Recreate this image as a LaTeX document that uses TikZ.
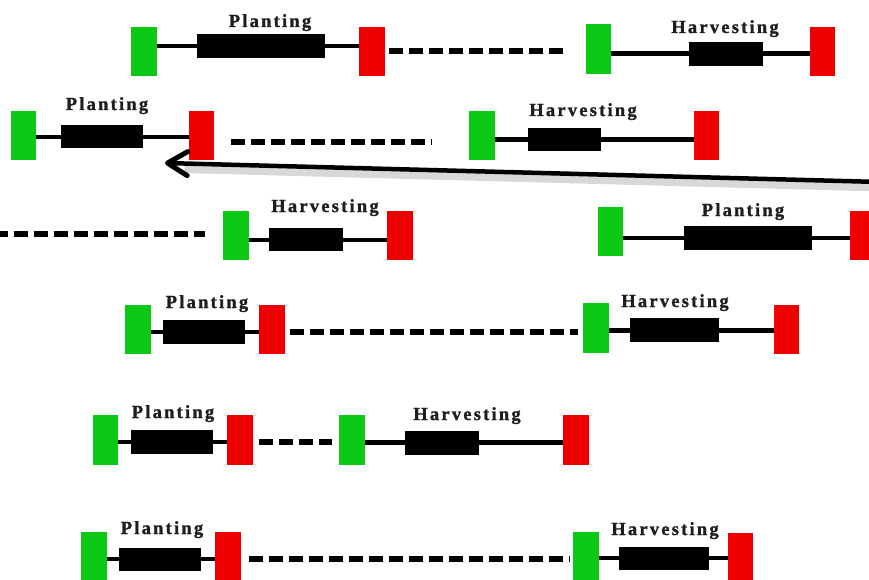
\documentclass[tikz,border=0pt]{standalone}
\usepackage{fontspec}
\setmainfont{Liberation Serif}
\newfontfamily\labelfont[LetterSpace=12,BoldFeatures={FakeBold=1.2}]{Liberation Serif}
\usetikzlibrary{arrows.meta}
\definecolor{boxgreen}{RGB}{10,200,20}
\definecolor{boxred}{RGB}{238,0,0}
\definecolor{labelgray}{RGB}{30,30,30}
\begin{document}
\begin{tikzpicture}[x=1pt,y=-1pt,
  gbox/.style={fill=boxgreen,draw=none,minimum width=26pt,minimum height=49pt,inner sep=0pt,outer sep=0pt},
  rbox/.style={fill=boxred,draw=none,minimum width=26pt,minimum height=49pt,inner sep=0pt,outer sep=0pt},
  bar/.style={fill=black,draw=none,minimum height=24pt,inner sep=0pt,outer sep=0pt},
  lab/.style={anchor=base,inner sep=0pt,font=\labelfont\bfseries\fontsize{18.5}{18.5}\selectfont,text=labelgray},
  stem/.style={line width=4pt},
  gapline/.style={line width=6pt,dash pattern=on 14pt off 6pt},
]
\clip (0,0) rectangle (869,580);
\fill[white] (0,0) rectangle (869,580);

% ---------- Row 1 ----------
\node[gbox] (G1a) at (144,51.5) {};
\node[bar,minimum width=128pt] (B1a) at (261,46) {};
\node[rbox] (R1a) at (372,51.5) {};
\node[gbox,minimum width=25pt,minimum height=50pt] (G1b) at (598.5,49) {};
\node[bar,minimum width=74pt] (B1b) at (726,54) {};
\node[rbox,minimum width=25pt] (R1b) at (822.5,51.5) {};
\draw[stem] (B1a.west -| G1a.east) -- (B1a.west) (B1a.east) -- (B1a.east -| R1a.west);
\draw[stem,line width=5pt] (B1b.west -| G1b.east) -- (B1b.west) (B1b.east) -- (B1b.east -| R1b.west);
\draw[gapline,shorten <=4pt,shorten >=19pt] (R1a.east) -- (R1a.east -| G1b.west);
\node[lab] (P1) at (270,27) {Planting};
\node[lab] (H1) at (725,33) {Harvesting};

% ---------- Row 2 ----------
\node[gbox,minimum width=25pt] (G2a) at (23.5,135.5) {};
\node[bar,minimum width=82pt,minimum height=23pt] (B2a) at (102,137) {};
\node[rbox,minimum width=25pt] (R2a) at (201.5,135.5) {};
\coordinate (D2end) at (432,142);
\node[gbox] (G2b) at (482,135.5) {};
\node[bar,minimum width=73pt,minimum height=23pt] (B2b) at (564.5,140) {};
\node[rbox,minimum width=25pt] (R2b) at (706.5,135.5) {};
\draw[stem] (B2a.west -| G2a.east) -- (B2a.west) (B2a.east) -- (B2a.east -| R2a.west);
\draw[stem,line width=5pt] (B2b.west -| G2b.east) -- (B2b.west) (B2b.east) -- (B2b.east -| R2b.west);
\draw[gapline,shorten <=17pt] (D2end -| R2a.east) -- (D2end);
\node[lab] (P2) at (107,110) {Planting};
\node[lab] (H2) at (583,116) {Harvesting};

% ---------- Row 3 ----------
\coordinate (D3start) at (-6,234);
\node[gbox] (G3a) at (236,235.5) {};
\node[bar,minimum width=74pt,minimum height=23pt] (B3a) at (306,239.5) {};
\node[rbox] (R3a) at (400,235.5) {};
\node[gbox,minimum width=25pt] (G3b) at (610.5,231.5) {};
\node[bar,minimum width=128pt] (B3b) at (748,238) {};
\node[rbox,minimum width=25pt] (R3b) at (862.5,235.5) {};
\draw[stem] (B3a.west -| G3a.east) -- (B3a.west) (B3a.east) -- (B3a.east -| R3a.west);
\draw[stem] (B3b.west -| G3b.east) -- (B3b.west) (B3b.east) -- (B3b.east -| R3b.west);
\draw[gapline,shorten >=18pt] (D3start) -- (D3start -| G3a.west);
\node[lab] (H3) at (325,212) {Harvesting};
\node[lab] (P3) at (743,216) {Planting};

% ---------- Row 4 ----------
\node[gbox] (G4a) at (138,329.5) {};
\node[bar,minimum width=82pt] (B4a) at (204,331.5) {};
\node[rbox] (R4a) at (272,329.5) {};
\node[gbox,minimum height=50pt] (G4b) at (596,328) {};
\node[bar,minimum width=89pt] (B4b) at (674.5,330) {};
\node[rbox,minimum width=25pt] (R4b) at (786.5,329.5) {};
\draw[stem] (B4a.west -| G4a.east) -- (B4a.west) (B4a.east) -- (B4a.east -| R4a.west);
\draw[stem,line width=5pt] (B4b.west -| G4b.east) -- (B4b.west) (B4b.east) -- (B4b.east -| R4b.west);
\draw[gapline,shorten <=5pt,shorten >=5pt] (R4a.east |- B4a.east) -- (G4b.west |- B4a.east);
\node[lab] (P4) at (207,308) {Planting};
\node[lab] (H4) at (675,307) {Harvesting};

% ---------- Row 5 ----------
\node[gbox,minimum width=25pt,minimum height=50pt] (G5a) at (105.5,440) {};
\node[bar,minimum width=82pt] (B5a) at (172,441.5) {};
\node[rbox,minimum height=50pt] (R5a) at (240,440) {};
\node[gbox,minimum height=50pt] (G5b) at (352,440) {};
\node[bar,minimum width=74pt] (B5b) at (442,442.5) {};
\node[rbox,minimum height=50pt] (R5b) at (576,440) {};
\draw[stem] (B5a.west -| G5a.east) -- (B5a.west) (B5a.east) -- (B5a.east -| R5a.west);
\draw[stem,line width=5pt] (B5b.west -| G5b.east) -- (B5b.west) (B5b.east) -- (B5b.east -| R5b.west);
\draw[gapline,shorten <=6pt,shorten >=7pt] (R5a.east |- B5a.east) -- (G5b.west |- B5a.east);
\node[lab] (P5) at (173,418) {Planting};
\node[lab] (H5) at (467,420) {Harvesting};

% ---------- Row 6 ----------
\node[gbox] (G6a) at (94,556.5) {};
\node[bar,minimum width=82pt,minimum height=23pt] (B6a) at (160,559) {};
\node[rbox] (R6a) at (228,556.5) {};
\node[gbox] (G6b) at (586,556.5) {};
\node[bar,minimum width=90pt,minimum height=23pt] (B6b) at (664,558) {};
\node[rbox,minimum width=25pt] (R6b) at (740.5,557.5) {};
\draw[stem] (B6a.west -| G6a.east) -- (B6a.west) (B6a.east) -- (B6a.east -| R6a.west);
\draw[stem] (B6b.west -| G6b.east) -- (B6b.west) (B6b.east) -- (B6b.east -| R6b.west);
\draw[gapline,shorten <=8pt,shorten >=3pt] (R6a.east |- B6a.east) -- (G6b.west |- B6a.east);
\node[lab] (P6) at (162,534) {Planting};
\node[lab] (H6) at (665,535) {Harvesting};

% ---------- Long arrow ----------
\coordinate (arrowstart) at (880,182);
\coordinate (arrowtip) at (165,163);
\draw[line width=9pt,gray,opacity=0.3,transform canvas={yshift=-5pt},shorten >=20pt] (arrowstart) -- (arrowtip);
\draw[line width=4.5pt,line cap=round,-{Straight Barb[length=20pt,width=24pt,line width=5pt,line cap=round,line join=round]}] (arrowstart) -- (arrowtip);
\end{tikzpicture}
\end{document}
